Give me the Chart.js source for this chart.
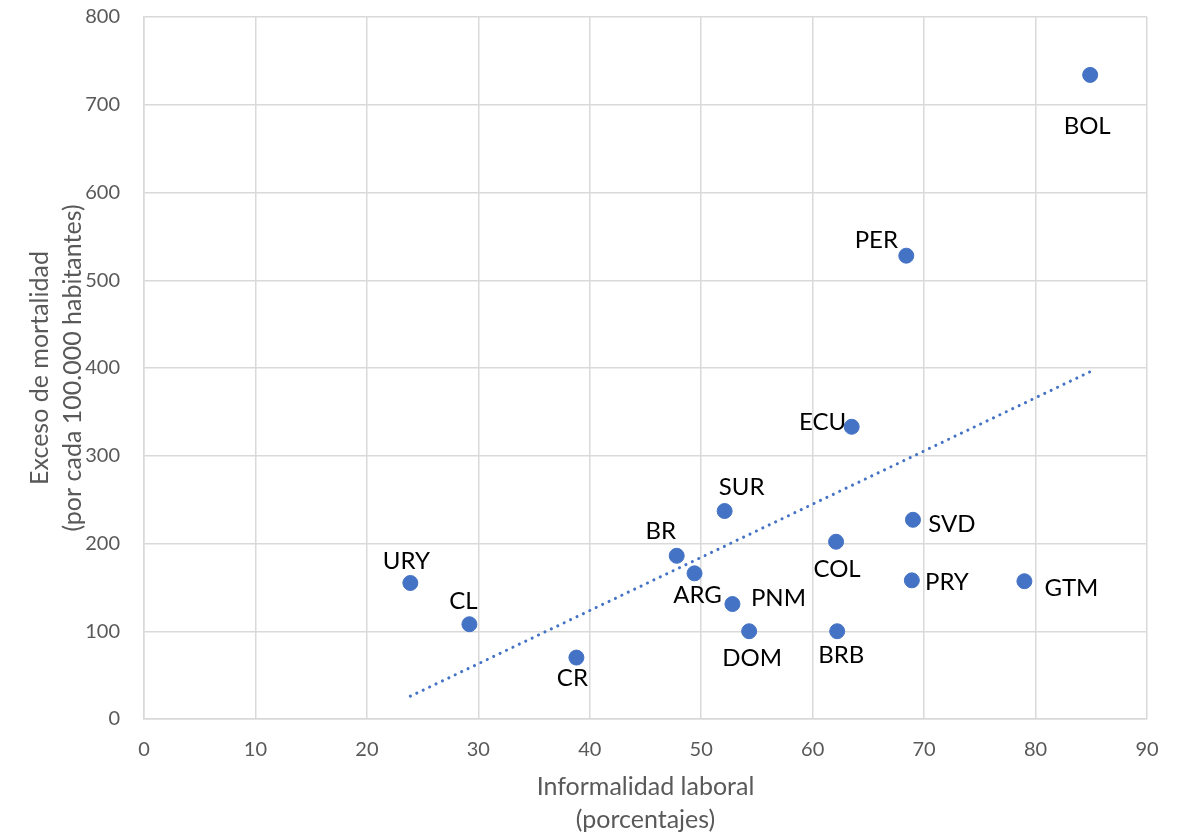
<!DOCTYPE html>
<html lang="es">
<head>
  <meta charset="UTF-8" />
  <title>Informalidad laboral y exceso de mortalidad</title>
  <script src="https://cdn.jsdelivr.net/npm/chart.js"></script>
  <style>
    html, body {
      margin: 0;
      padding: 0;
      background: #fff;
    }
    #wrap {
      width: 1187px;
      height: 836px;
    }
  </style>
</head>
<body>
  <div id="wrap">
    <canvas id="chart"></canvas>
  </div>

  <script>
    // datos
    const paises = ['BOL', 'PER', 'ECU', 'SUR', 'SVD', 'COL', 'BR', 'ARG', 'URY', 'PRY', 'GTM', 'PNM', 'CL', 'DOM', 'BRB', 'CR'];
    const informalidad = [84.9, 68.4, 63.5, 52.1, 69.0, 62.1, 47.8, 49.4, 23.9, 68.9, 79.0, 52.8, 29.2, 54.3, 62.2, 38.8];
    const mortalidad = [734, 528, 333, 237, 227, 202, 186, 166, 155, 158, 157, 131, 108, 100, 100, 70];

    // extremos de la línea de tendencia
    const tendenciaX = [23.9, 85.1];
    const tendenciaY = [26, 397];

    // desplazamiento de cada etiqueta respecto a su punto (px)
    const etiquetaDx = [-3, -30, -29, 17, 39, 1, -16, 3, -4, 35, 47, 46, -6, 3, 4, -4];
    const etiquetaDy = [51, -15, -5, -24, 4, 28, -25, 22, -22, 2, 7, -6, -23, 27, 24, 21];

    const fuente = 'Lato, "Open Sans", sans-serif';
    const azul = '#4472C4';

    const etiquetas = {
      id: 'etiquetas',
      afterDatasetsDraw(chart) {
        const meta = chart.getDatasetMeta(0);
        const ctx = chart.ctx;
        ctx.save();
        ctx.font = '24px ' + fuente;
        ctx.fillStyle = '#000';
        ctx.textAlign = 'center';
        ctx.textBaseline = 'middle';
        meta.data.forEach((pt, i) => {
          ctx.fillText(paises[i], pt.x + etiquetaDx[i], pt.y + etiquetaDy[i]);
        });
        ctx.restore();
      }
    };

    new Chart(document.getElementById('chart'), {
      type: 'scatter',
      data: {
        datasets: [{
          label: 'Países',
          data: informalidad.map((x, i) => ({ x: x, y: mortalidad[i] })),
          backgroundColor: azul,
          borderColor: azul,
          pointRadius: 7.5,
          pointHoverRadius: 7.5,
          order: 1
        }, {
          label: 'Tendencia',
          type: 'line',
          data: tendenciaX.map((x, i) => ({ x: x, y: tendenciaY[i] })),
          borderColor: azul,
          borderWidth: 3,
          borderDash: [0.1, 7],
          borderCapStyle: 'round',
          pointRadius: 0,
          fill: false,
          order: 2
        }]
      },
      options: {
        responsive: true,
        maintainAspectRatio: false,
        animation: false,
        layout: {
          padding: { top: 17, right: 40, left: 0, bottom: 0 }
        },
        scales: {
          x: {
            type: 'linear',
            min: 0,
            max: 90,
            afterFit(scale) {
              scale.height = 117;
              scale.paddingLeft = 0;
              scale.paddingRight = 0;
            },
            ticks: {
              stepSize: 10,
              color: '#595959',
              font: { family: fuente, size: 20 },
              padding: 19
            },
            grid: { color: '#d9d9d9', lineWidth: 1.5, drawTicks: false },
            border: { color: '#d9d9d9', width: 1.5 },
            title: {
              display: true,
              text: ['Informalidad laboral', '(porcentajes)'],
              color: '#595959',
              font: { family: fuente, size: 25, lineHeight: 1.3 },
              padding: { top: 0, bottom: 0 }
            }
          },
          y: {
            min: 0,
            max: 800,
            afterFit(scale) {
              scale.width = 144;
              scale.paddingTop = 0;
              scale.paddingBottom = 0;
            },
            ticks: {
              stepSize: 100,
              color: '#595959',
              font: { family: fuente, size: 20 },
              padding: 24
            },
            grid: { color: '#d9d9d9', lineWidth: 1.5, drawTicks: false },
            border: { color: '#d9d9d9', width: 1.5 },
            title: {
              display: true,
              text: ['Exceso de mortalidad', '(por cada 100.000 habitantes)'],
              color: '#595959',
              font: { family: fuente, size: 25, lineHeight: 1.3 },
              padding: { top: 24, bottom: 0 }
            }
          }
        },
        plugins: {
          legend: { display: false },
          tooltip: { enabled: false }
        }
      },
      plugins: [etiquetas]
    });
  </script>
</body>
</html>
